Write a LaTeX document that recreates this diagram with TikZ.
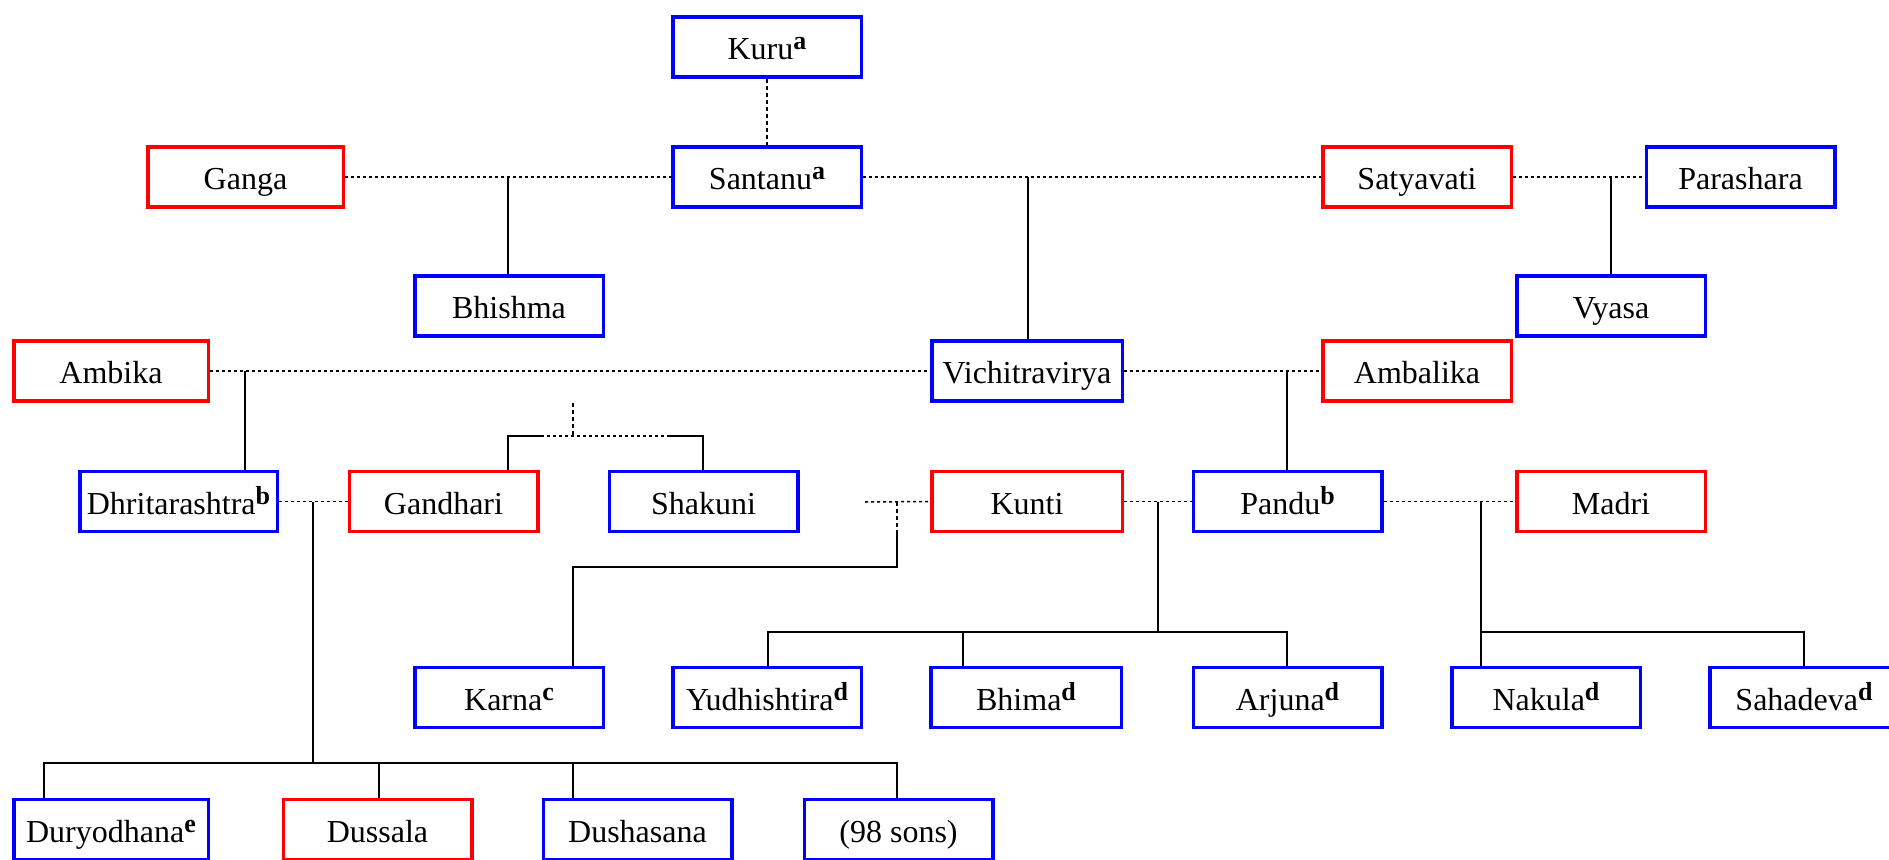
\documentclass[tikz,border=0pt]{standalone}
\usepackage{fontspec}
\setmainfont{Liberation Serif}
\newcommand\supl[1]{\raisebox{10pt}{\fontsize{26}{26}\selectfont\bfseries #1}}
\tikzset{
  person/.style={draw, line width=3.5pt, minimum width=188.5pt, minimum height=60pt, inner sep=0pt, text height=25pt, text depth=0pt, font=\fontsize{32}{38}\selectfont},
  male/.style={person, draw=blue},
  female/.style={person, draw=red},
  marriage/.style={line width=1.5pt, dash pattern=on 3pt off 3pt},
  descent/.style={line width=1.8pt},
  stub/.style={line width=1.5pt, dash pattern=on 4pt off 3pt},
}
\begin{document}
\begin{tikzpicture}[x=1pt,y=-1pt]
\useasboundingbox (0,0) rectangle (1889,859);
% nodes
\node[male] (kuru) at (767,47) {Kuru\supl{a}};
\node[male] (santanu) at (767,177) {Santanu\supl{a}};
\node[female, minimum width=195.5pt] (ganga) at (245.5,177) {Ganga};
\node[female] (satyavati) at (1417,177) {Satyavati};
\node[male] (parashara) at (1740.5,177) {Parashara};
\node[male] (bhishma) at (509,306) {Bhishma};
\node[male] (vyasa) at (1611,306) {Vyasa};
\node[female, minimum width=194.5pt] (ambika) at (111,371) {Ambika};
\node[male, minimum width=190.5pt] (vichi) at (1027,371) {Vichitravirya};
\node[female] (ambalika) at (1417,371) {Ambalika};
\node[male, minimum width=197.5pt] (dhrita) at (178.5,501.5) {Dhritarashtra\supl{b}};
\node[female] (gandhari) at (443.5,501.5) {Gandhari};
\node[male] (shakuni) at (703.5,501.5) {Shakuni};
\node[female, minimum width=190.5pt] (kunti) at (1027,501.5) {Kunti};
\node[male] (pandu) at (1287.5,501.5) {Pandu\supl{b}};
\node[female] (madri) at (1611,501.5) {Madri};
\node[male] (karna) at (509,697.5) {Karna\supl{c}};
\node[male] (yudhi) at (767,697.5) {Yudhishtira\supl{d}};
\node[male, minimum width=190.5pt] (bhima) at (1026,697.5) {Bhima\supl{d}};
\node[male] (arjuna) at (1287.5,697.5) {Arjuna\supl{d}};
\node[male] (nakula) at (1546,697.5) {Nakula\supl{d}};
\node[male] (sahadeva) at (1804,697.5) {Sahadeva\supl{d}};
\node[male, minimum width=194.5pt] (duryo) at (111,829.5) {Duryodhana\supl{e}};
\node[female] (dussala) at (377.5,829.5) {Dussala};
\node[male] (dusha) at (637.5,829.5) {Dushasana};
\node[male] (sons) at (898.5,829.5) {(98 sons)};
% connectors
\draw[stub] (kuru) -- (santanu);
\draw[marriage] (ganga) -- (santanu);
\coordinate (j1) at (508,177);
\draw[descent] (j1) -- (j1 |- bhishma.north);
\draw[marriage] (santanu) -- (satyavati);
\coordinate (j2) at (1028,177);
\draw[descent] (j2) -- (j2 |- vichi.north);
\draw[marriage] (satyavati) -- (parashara);
\coordinate (j3) at (1611,177);
\draw[descent] (j3) -- (j3 |- vyasa.north);
\draw[marriage] (ambika) -- (vichi);
\coordinate (j4) at (245,371);
\draw[descent] (j4) -- (j4 |- dhrita.north);
\draw[marriage] (vichi) -- (ambalika);
\coordinate (j5) at (1287,371);
\draw[descent] (j5) -- (j5 |- pandu.north);
% Gandhari and Shakuni
\coordinate (g0) at (573,403);
\coordinate (g1) at (573,436);
\draw[stub] (g0) -- (g1);
\coordinate (gl) at (508,436);
\coordinate (gr) at (703,436);
\coordinate (gdl) at (541,436);
\coordinate (gdr) at (670,436);
\draw[descent] (gl |- gandhari.north) -- (gl) -- (gdl);
\draw[marriage] (gdl) -- (gdr);
\draw[descent] (gdr) -- (gr) -- (gr |- shakuni.north);
% Dhritarashtra and Gandhari
\draw[marriage] (dhrita) -- (gandhari);
\coordinate (j6) at (313,502);
\coordinate (j6b) at (313,763);
\draw[descent] (j6) -- (j6b);
\coordinate (c1) at (44,763);
\coordinate (c2) at (379,763);
\coordinate (c3) at (573,763);
\coordinate (c4) at (897,763);
\draw[descent] (c1 |- duryo.north) -- (c1) -- (c4) -- (c4 |- sons.north);
\draw[descent] (c2) -- (c2 |- dussala.north);
\draw[descent] (c3) -- (c3 |- dusha.north);
% Kunti and Karna
\coordinate (k0) at (865,502);
\draw[marriage] (k0) -- (kunti.west);
\coordinate (k1) at (897,502);
\coordinate (k2) at (897,533);
\coordinate (k3) at (897,567);
\coordinate (k4) at (573,567);
\draw[stub] (k1) -- (k2);
\draw[descent] (k2) -- (k3) -- (k4) -- (k4 |- karna.north);
% Kunti and Pandu
\draw[marriage] (kunti) -- (pandu);
\coordinate (j7) at (1158,502);
\coordinate (j7b) at (1158,632);
\draw[descent] (j7) -- (j7b);
\coordinate (p1) at (768,632);
\coordinate (p2) at (963,632);
\coordinate (p3) at (1287,632);
\draw[descent] (p1 |- yudhi.north) -- (p1) -- (p3) -- (p3 |- arjuna.north);
\draw[descent] (p2) -- (p2 |- bhima.north);
% Pandu and Madri
\draw[marriage] (pandu) -- (madri);
\coordinate (j8) at (1481,502);
\draw[descent] (j8) -- (j8 |- nakula.north);
\coordinate (m1) at (1481,632);
\coordinate (m2) at (1804,632);
\draw[descent] (m1) -- (m2) -- (m2 |- sahadeva.north);
\end{tikzpicture}
\end{document}
